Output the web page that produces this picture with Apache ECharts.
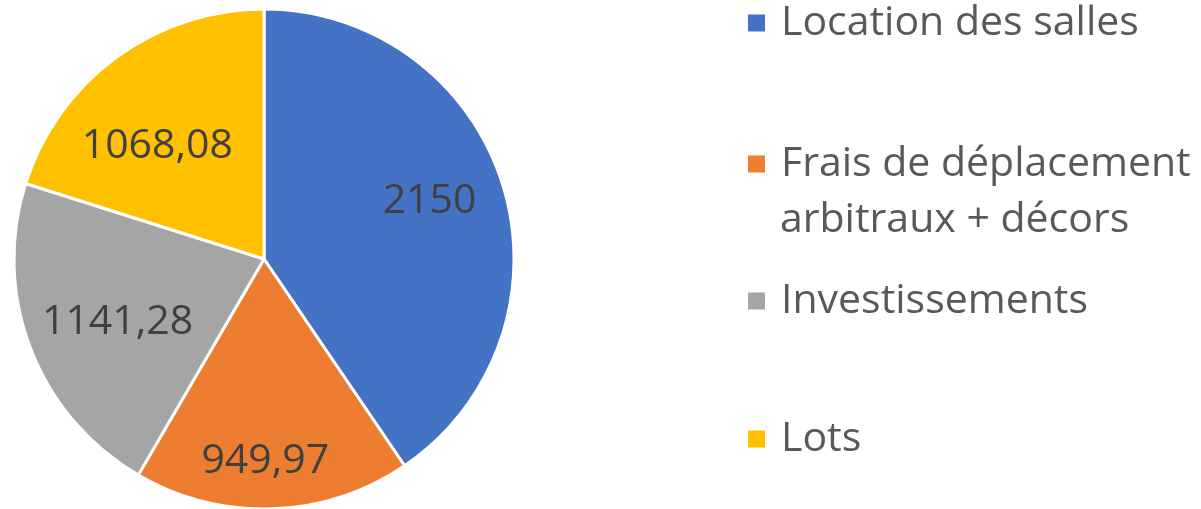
<!DOCTYPE html>
<html>
<head>
<meta charset="utf-8">
<script src="https://cdn.jsdelivr.net/npm/echarts@6/dist/echarts.min.js"></script>
<style>
  html, body { margin: 0; padding: 0; background: #fff; }
  #chart { width: 1201px; height: 509px; }
</style>
</head>
<body>
<div id="chart"></div>
<script>
const chartRef = document.getElementById("chart");
const chartInstance = echarts.init(chartRef);

// répartition des dépenses
const data = [
  { name: "Location des salles", value: 2150 },
  { name: "Frais de déplacement arbitraux + décors", value: 949.97 },
  { name: "Investissements", value: 1141.28 },
  { name: "Lots", value: 1068.08 },
];
const colors = ["#4472C4", "#ED7D31", "#A5A5A5", "#FFC000"];
// petits décalages des étiquettes ("meilleur ajustement" d'Excel)
const labelOffsets = [[-7, -5], [-5, 22], [22, -2], [0, 33]];
const legendTops = [23, 164, 301, 439]; // centre de chaque carré
const fontFamily = "'Open Sans', sans-serif";
const lineH = 46;
const legendLeft = 746;

const textStyle = {
  color: "#595959",
  fontSize: 41,
  fontFamily: fontFamily,
  lineHeight: lineH,
  padding: [0, 0, 0, 10],
};

// une légende par entrée pour garder l'espacement d'Excel
const legends = data.map((d, i) => ({
  orient: "vertical",
  left: legendLeft,
  top: legendTops[i] - lineH / 2,
  padding: 0,
  data: [d.name],
  icon: "rect",
  itemWidth: 19,
  itemHeight: 19,
  itemGap: 0,
  selectedMode: false,
  // la 2e ligne de "Frais..." est ajoutée à part (graphic) pour que le carré reste sur la 1re
  formatter: (name) =>
    name === "Frais de déplacement arbitraux + décors" ? "Frais de déplacement" : name,
  textStyle: textStyle,
}));

const option = {
  backgroundColor: "#ffffff",
  color: colors,
  animation: false,
  legend: legends,
  graphic: [
    {
      type: "text",
      x: legendLeft + 19 + 5 + 10,
      y: 220,
      silent: true,
      style: {
        text: "arbitraux + décors",
        fill: "#595959",
        fontSize: 41,
        fontFamily: fontFamily,
        verticalAlign: "middle",
      },
    },
  ],
  series: [
    {
      type: "pie",
      center: [264, 259],
      radius: 250,
      startAngle: 90,
      clockwise: true,
      data: data,
      label: { show: false },
      labelLine: { show: false },
      itemStyle: {
        borderColor: "#ffffff",
        borderWidth: 3,
      },
      silent: true,
    },
    {
      // série transparente, juste pour placer les étiquettes plus loin du centre
      type: "pie",
      center: [264, 259],
      radius: [105, 250],
      startAngle: 90,
      clockwise: true,
      data: data.map((d, i) => ({ ...d, label: { offset: labelOffsets[i] } })),
      silent: true,
      itemStyle: { color: "transparent" },
      label: {
        show: true,
        position: "inside",
        color: "#404040",
        fontSize: 41,
        fontFamily: fontFamily,
        formatter: (p) => String(p.value).replace(".", ","),
      },
      labelLine: { show: false },
    },
  ],
};

chartInstance.setOption(option);
</script>
</body>
</html>
